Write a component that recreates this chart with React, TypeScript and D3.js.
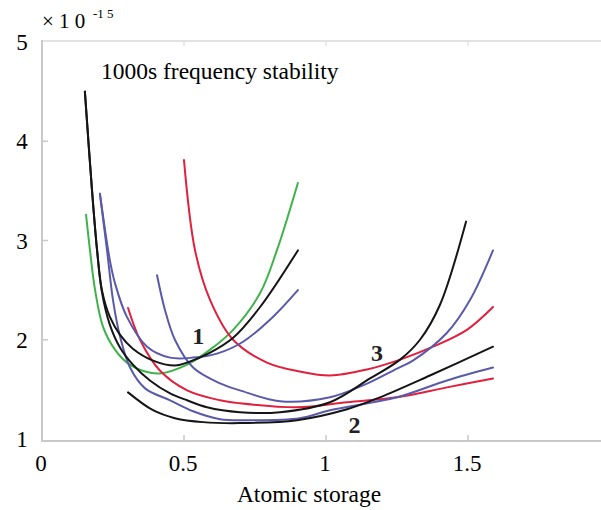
import * as d3 from "d3";

// x = atomic storage, y = stability (x 10^-15)
const greenG1: [number, number][] = [
  [0.155, 3.26], [0.169, 2.9], [0.187, 2.5], [0.215, 2.13], [0.257, 1.9], [0.299, 1.77],
  [0.363, 1.68], [0.415, 1.66], [0.511, 1.75], [0.592, 1.9], [0.673, 2.1], [0.768, 2.47],
  [0.827, 2.9], [0.901, 3.58],
];
const blackG1: [number, number][] = [
  [0.151, 4.5], [0.176, 3.51], [0.194, 2.9], [0.211, 2.5], [0.239, 2.23], [0.275, 2.05],
  [0.32, 1.91], [0.391, 1.79], [0.468, 1.74], [0.511, 1.77], [0.592, 1.87], [0.673, 2.02],
  [0.768, 2.33], [0.901, 2.9],
];
const blueG1: [number, number][] = [
  [0.204, 3.47], [0.239, 2.8], [0.257, 2.57], [0.299, 2.23], [0.37, 1.93], [0.451, 1.82],
  [0.532, 1.82], [0.616, 1.86], [0.708, 1.98], [0.813, 2.23], [0.901, 2.5],
];
const redG3: [number, number][] = [
  [0.5, 3.81], [0.539, 2.9], [0.592, 2.4], [0.673, 2.0], [0.792, 1.77], [0.908, 1.68],
  [1.014, 1.64], [1.144, 1.7], [1.261, 1.8], [1.377, 1.93], [1.496, 2.1], [1.588, 2.33],
];
const blueG3: [number, number][] = [
  [0.405, 2.65], [0.433, 2.3], [0.468, 2.0], [0.532, 1.72], [0.627, 1.56], [0.697, 1.49],
  [0.838, 1.38], [1.014, 1.42], [1.13, 1.54], [1.25, 1.71], [1.306, 1.79], [1.426, 2.07],
  [1.507, 2.4], [1.588, 2.9],
];
const blackG3: [number, number][] = [
  [0.151, 4.5], [0.176, 3.51], [0.194, 2.9], [0.211, 2.48], [0.239, 2.15], [0.275, 1.92],
  [0.32, 1.75], [0.38, 1.59], [0.451, 1.46], [0.511, 1.39], [0.581, 1.32], [0.697, 1.27],
  [0.838, 1.27], [1.014, 1.37], [1.155, 1.61], [1.261, 1.8], [1.331, 2.0], [1.401, 2.35],
  [1.493, 3.19],
];
const redG2: [number, number][] = [
  [0.303, 2.32], [0.345, 2.0], [0.415, 1.69], [0.511, 1.49], [0.627, 1.39], [0.697, 1.36],
  [0.898, 1.32], [1.074, 1.37], [1.25, 1.42], [1.426, 1.52], [1.588, 1.61],
];
const blueG2: [number, number][] = [
  [0.204, 3.47], [0.229, 2.9], [0.25, 2.4], [0.275, 2.03], [0.31, 1.72], [0.363, 1.51],
  [0.451, 1.39], [0.532, 1.28], [0.627, 1.2], [0.732, 1.19], [0.908, 1.21], [1.014, 1.29],
  [1.25, 1.42], [1.426, 1.59], [1.588, 1.72],
];
const blackG2: [number, number][] = [
  [0.303, 1.47], [0.391, 1.29], [0.468, 1.21], [0.567, 1.17], [0.697, 1.16], [0.898, 1.19],
  [1.074, 1.3], [1.19, 1.42], [1.366, 1.64], [1.588, 1.93],
];

const xTicks = [0, 0.5, 1, 1.5, 2];
const xTickLabels = ["0", "0.5", "1", "1.5", "2"];
const yTicks = [1, 2, 3, 4, 5];

const curveLabels = [
  { text: "1", x: 0.55, y: 2.04 },
  { text: "3", x: 1.18, y: 1.87 },
  { text: "2", x: 1.1, y: 1.14 },
];

const GREEN = "#3fb24a";
const BLACK = "#151515";
const BLUE = "#5a5aaa";
const RED = "#e0203f";

const series = [
  { pts: greenG1, color: GREEN },
  { pts: redG3, color: RED },
  { pts: redG2, color: RED },
  { pts: blueG1, color: BLUE },
  { pts: blueG2, color: BLUE },
  { pts: blueG3, color: BLUE },
  { pts: blackG1, color: BLACK },
  { pts: blackG2, color: BLACK },
  { pts: blackG3, color: BLACK },
];

const serif = "Liberation Serif";

export default function App() {
  const width = 601;
  const height = 510;
  const x = d3.scaleLinear().domain([0, 2]).range([42, 610]);
  const y = d3.scaleLinear().domain([1, 5]).range([439, 42]);
  const line = d3
    .line<[number, number]>()
    .x((d) => x(d[0]))
    .y((d) => y(d[1]))
    .curve(d3.curveCatmullRom.alpha(0.5));
  const frame = "#c9c9c9";
  const txt = { fontFamily: serif };

  return (
    <svg
      width={width}
      height={height}
      style={{ position: "absolute", left: 0, top: 0, background: "#fff" }}
    >
      {/* frame */}
      <line x1={x(0)} x2={width} y1={41} y2={41} stroke="#e2e2e2" strokeWidth={2} />
      <line x1={x(0)} x2={x(0)} y1={40} y2={441} stroke={frame} strokeWidth={2} />
      <line x1={x(0) - 1} x2={width} y1={441} y2={441} stroke={frame} strokeWidth={2} />
      {xTicks.slice(1, 4).map((t) => (
        <g key={"xt" + t}>
          <line x1={x(t)} x2={x(t)} y1={441} y2={435} stroke={frame} strokeWidth={1.5} />
          <line x1={x(t)} x2={x(t)} y1={41} y2={46} stroke="#e2e2e2" strokeWidth={1.5} />
        </g>
      ))}
      {yTicks.slice(1, 4).map((t) => (
        <line key={"yt" + t} x1={x(0)} x2={x(0) + 6} y1={y(t)} y2={y(t)} stroke={frame} strokeWidth={1.5} />
      ))}

      {/* curves */}
      {series.map((s, i) => (
        <path key={i} d={line(s.pts) ?? ""} fill="none" stroke={s.color} strokeWidth={2} strokeLinecap="round" />
      ))}

      {/* curve group labels */}
      {curveLabels.map((l) => (
        <text
          key={l.text}
          x={x(l.x)}
          y={y(l.y)}
          fontSize={24}
          fontWeight="bold"
          textAnchor="middle"
          dominantBaseline="central"
          fill="#222"
          style={txt}
        >
          {l.text}
        </text>
      ))}

      {/* tick labels */}
      {xTicks.map((t, i) => (
        <text key={"xl" + t} x={x(t) - 1} y={471} fontSize={23} textAnchor="middle" fill="#000" style={txt}>
          {xTickLabels[i]}
        </text>
      ))}
      {yTicks.map((t) => (
        <text key={"yl" + t} x={22} y={y(t) + 8} fontSize={23} textAnchor="middle" fill="#000" style={txt}>
          {t}
        </text>
      ))}

      {/* multiplier */}
      <text x={42} y={28} fontSize={21} fill="#000" style={txt}>
        × 1 0
      </text>
      <text x={93} y={18} fontSize={13} fill="#000" style={txt}>
        -1 5
      </text>

      <text x={101} y={79} fontSize={23.5} fill="#000" style={txt}>
        1000s frequency stability
      </text>
      <text x={309} y={502} fontSize={23.5} textAnchor="middle" fill="#000" style={txt}>
        Atomic storage
      </text>
    </svg>
  );
}
